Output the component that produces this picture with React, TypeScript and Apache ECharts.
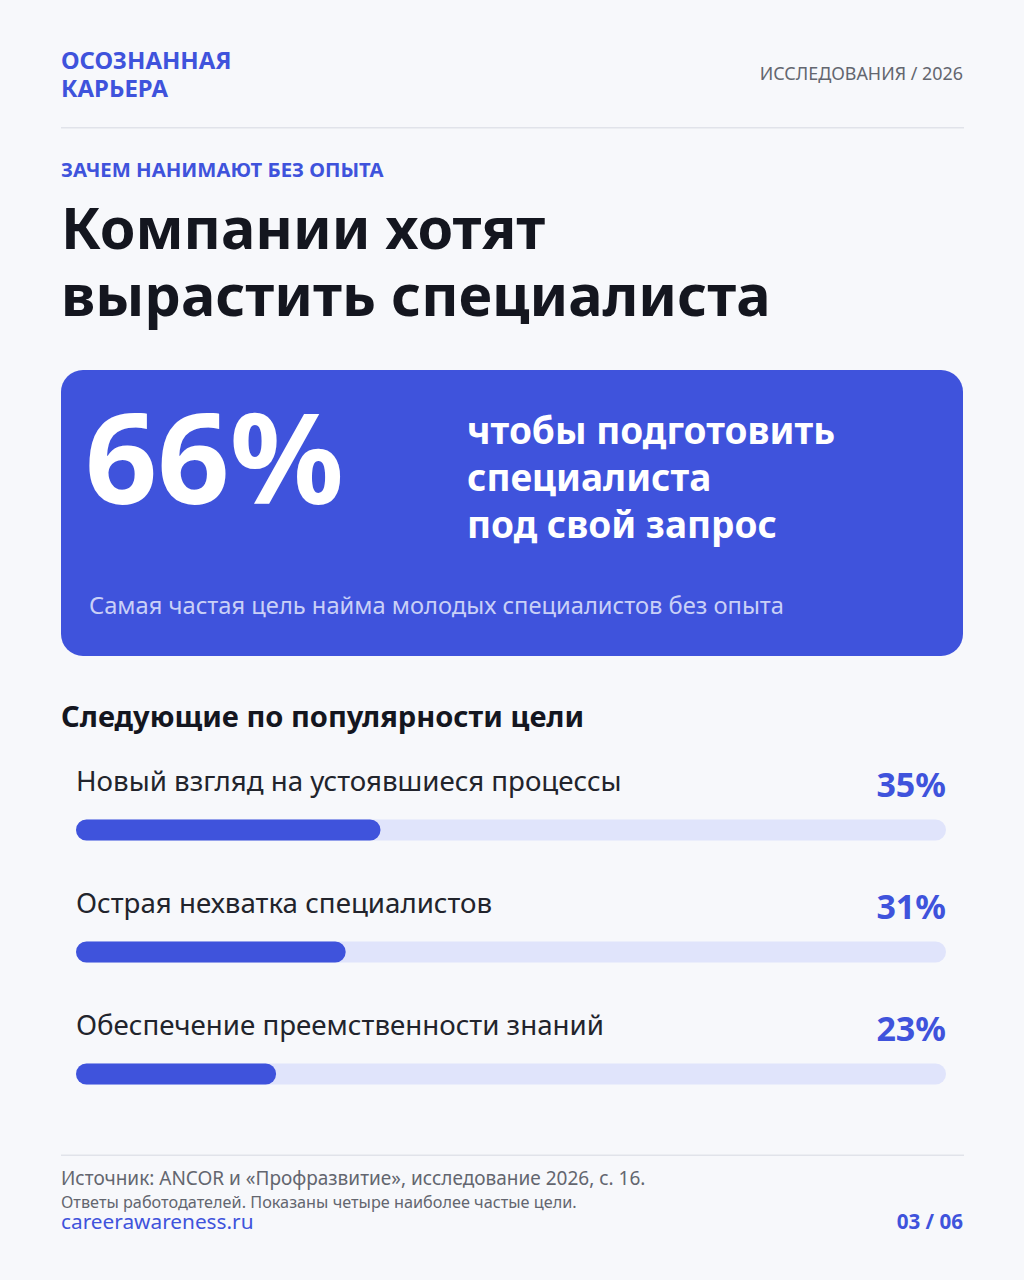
import React, { useEffect, useRef } from "react";
import * as echarts from "echarts";

const categories = [
  "Новый взгляд на устоявшиеся процессы",
  "Острая нехватка специалистов",
  "Обеспечение преемственности знаний",
];
const values = [35, 31, 23];
const valueLabels = ["35%", "31%", "23%"];
const heroLines = ["чтобы подготовить", "специалиста", "под свой запрос"];

const FONT = '"Noto Sans", sans-serif';
const BLUE = "#3f53dc";
const INK = "#14161f";
const ROW = "#22242c";
const BG = "#f7f8fb";
const TRACK = "#e0e4fb";
const GREY = "#63666f";

const t = (x: number, y: number, text: string, size: number, weight: number, fill: string, align = "left") => ({
  type: "text",
  x,
  y,
  style: {
    text,
    fontFamily: FONT,
    fontSize: size,
    fontWeight: weight,
    fill,
    align,
    verticalAlign: "middle",
    lineHeight: Math.round(size * 0.95),
  },
});

export default function App() {
  const ref = useRef<HTMLDivElement>(null);
  useEffect(() => {
    const chart = echarts.init(ref.current!, undefined, { renderer: "svg" });
    const rowY = [780, 902, 1024];
    chart.setOption({
      animation: false,
      backgroundColor: BG,
      grid: { left: 76, width: 870, top: 769, height: 366 },
      xAxis: { type: "value", min: 0, max: 100, show: false },
      yAxis: { type: "category", inverse: true, data: categories, show: false },
      series: [
        {
          type: "bar",
          data: values,
          barWidth: 21,
          showBackground: true,
          backgroundStyle: { color: TRACK, borderRadius: 10.5 },
          itemStyle: { color: BLUE, borderRadius: 10.5 },
        },
      ],
      graphic: [
        t(61, 59, "ОСОЗНАННАЯ", 23.9, 700, BLUE),
        t(61, 87, "КАРЬЕРА", 23.9, 700, BLUE),
        t(963, 73, "ИССЛЕДОВАНИЯ / 2026", 17.9, 400, GREY, "right"),
        { type: "rect", shape: { x: 61, y: 127, width: 903, height: 1.5 }, style: { fill: "#e1e3ea" } },
        t(61, 169, "ЗАЧЕМ НАНИМАЮТ БЕЗ ОПЫТА", 20.25, 700, BLUE),
        t(61, 227, "Компании хотят", 57.5, 700, INK),
        t(61, 294, "вырастить специалиста", 57.5, 700, INK),
        { type: "rect", shape: { x: 61, y: 370, width: 902, height: 286, r: 22 }, style: { fill: BLUE } },
        t(85, 455, "66%", 126.5, 700, "#ffffff"),
        ...heroLines.map((line, i) => t(467, 429.5 + i * 47, line, 37, 700, "#ffffff")),
        t(89, 605, "Самая частая цель найма молодых специалистов без опыта", 23.7, 400, "#c9d0f7"),
        t(61, 715.5, "Следующие по популярности цели", 29.1, 700, INK),
        ...categories.map((c, i) => t(76, rowY[i], c, 27.7, 400, ROW)),
        ...valueLabels.map((v, i) => t(946, rowY[i] + 3.5, v, 34, 700, BLUE, "right")),
        { type: "rect", shape: { x: 61, y: 1154.5, width: 903, height: 1.5 }, style: { fill: "#e1e3ea" } },
        t(61, 1177.5, "Источник: ANCOR и «Профразвитие», исследование 2026, с. 16.", 19, 400, GREY),
        t(61, 1202, "Ответы работодателей. Показаны четыре наиболее частые цели.", 16.25, 400, GREY),
        t(61, 1220.5, "careerawareness.ru", 20.8, 400, BLUE),
        t(963, 1221, "03 / 06", 20.6, 700, BLUE, "right"),
      ],
    });
    return () => chart.dispose();
  }, []);
  return <div ref={ref} style={{ position: "absolute", left: 0, top: 0, width: 1024, height: 1280 }} />;
}
